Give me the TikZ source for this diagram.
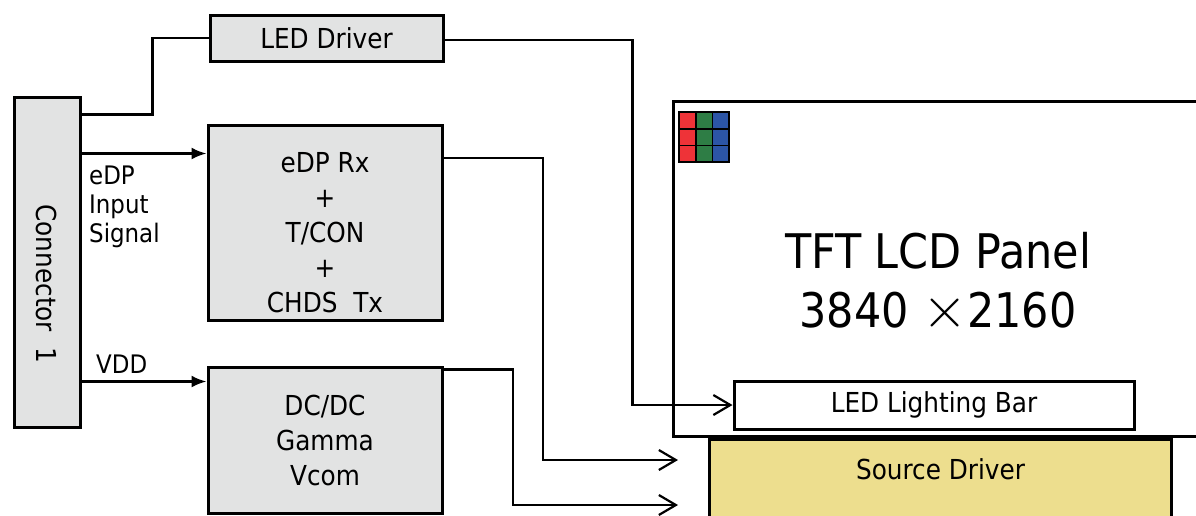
\RequirePackage{fix-cm}
\documentclass[tikz,border=0pt]{standalone}
\usepackage{fontspec}
\setmainfont{DejaVu Sans Condensed}
\usetikzlibrary{positioning, arrows, arrows.meta}
\definecolor{boxgray}{HTML}{E2E3E3}
\definecolor{srcyellow}{HTML}{EDDE8E}
\definecolor{pixred}{HTML}{EE3338}
\definecolor{pixgreen}{HTML}{2E7D45}
\definecolor{pixblue}{HTML}{2C55A6}
\tikzset{
  >=stealth,
  every node/.style={font=\fontsize{27.5}{35}\selectfont, inner sep=0pt},
  block/.style={draw, line width=3pt, fill=boxgray, align=center},
  wire/.style={line width=2.4pt},
  feed/.style={wire, -{Latex[length=15pt,width=12pt]}},
  drive/.style={wire, -{Straight Barb[length=17pt,width=20pt,line width=2.2pt]}},
  note/.style={font=\fontsize{25.5}{29}\selectfont},
  big/.style={font=\fontsize{47.7}{59}\selectfont, anchor=base},
}

\begin{document}
\begin{tikzpicture}[x=1pt, y=-1pt]
      \useasboundingbox (0,0) rectangle (1196,515);
      \fill[white] (0,0) rectangle (1196,515);
      \clip (0,0) rectangle (1196,515);

      % left side blocks
      \node[block, minimum width=66pt, minimum height=330pt]  (conn) at (47,262)    {};
      \node[rotate=-90]                                        (ctxt) at (47,284)    {Connector\ \ 1};
      \node[block, minimum width=233pt, minimum height=46pt]  (drv)  at (326.5,38)  {LED Driver};
      \node[block, minimum width=234pt, minimum height=195pt] (edp)  at (325,222.5) {};
      \node[align=center]                                      (etxt) at (325,233)   {eDP Rx\\+\\T/CON\\+\\CHDS\ \ Tx};
      \node[block, minimum width=234pt, minimum height=146pt] (dc)   at (325,440)   {DC/DC\\Gamma\\Vcom};

      % panel side
      \node[draw, line width=3pt, minimum width=560pt, minimum height=335pt, anchor=north west] (panel) at (672,100) {};
      \node[big] (title) at (938,268) {TFT LCD Panel};
      \node[big] (res)   at (938,327) {3840 \smash{\fontsize{58}{59}\selectfont$\times$}2160};
      \node[draw, line width=3pt, fill=white, minimum width=400pt, minimum height=48pt] (bar) at (934,405) {LED Lighting Bar};
      \node[draw, line width=3pt, fill=srcyellow, minimum width=462pt, minimum height=110pt, anchor=north west] (src) at (708,438) {};
      \node (stxt) at ([yshift=-31pt]src.north) {Source Driver};

      % pixel grid
      \foreach \c/\col in {0/pixred, 1/pixgreen, 2/pixblue}
        \foreach \r in {0,1,2}
          \draw[fill=\col, line width=1.8pt] ({679+\c*16.7},{112+\r*16.7}) rectangle ++(16.7,16.7);

      % labels on the connector side
      \node[note, align=left, anchor=north west] (sig) at (89,166) {eDP\\Input\\Signal};
      \node[note, anchor=base west]              (vdd) at (96,373) {VDD};

      % helper points
      \coordinate (ledtap) at ([yshift=-19pt]conn.north east);
      \coordinate (edpin)  at ([yshift=-30pt]edp.north west);
      \coordinate (dcin)   at ([yshift=-16pt]dc.north west);
      \coordinate (edpout) at ([yshift=-34.5pt]edp.north east);
      \coordinate (dcout)  at ([yshift=-4pt]dc.north east);
      \coordinate (edpbend) at ([xshift=99.5pt]edp.east);
      \coordinate (dcbend)  at ([xshift=69.5pt]dc.east);
      \coordinate (srcin1) at ([xshift=-30pt,yshift=-22pt]src.north west);
      \coordinate (srcin2) at ([xshift=-30pt,yshift=-67pt]src.north west);

      % connections
      \draw[wire]  (ledtap) -| ([xshift=-56pt]drv.west) -- (drv.west);
      \draw[feed]  (conn.east |- edpin) -- (edpin);
      \draw[feed]  (conn.east |- dcin) -- (dcin);
      \draw[drive] ([yshift=-2pt]drv.east) -| ([xshift=-100pt]bar.west) -- (bar.west);
      \draw[drive] (edpout) -| (edpbend |- srcin1) -- (srcin1);
      \draw[drive] (dcout) -| (dcbend |- srcin2) -- (srcin2);
    \end{tikzpicture}
\end{document}
